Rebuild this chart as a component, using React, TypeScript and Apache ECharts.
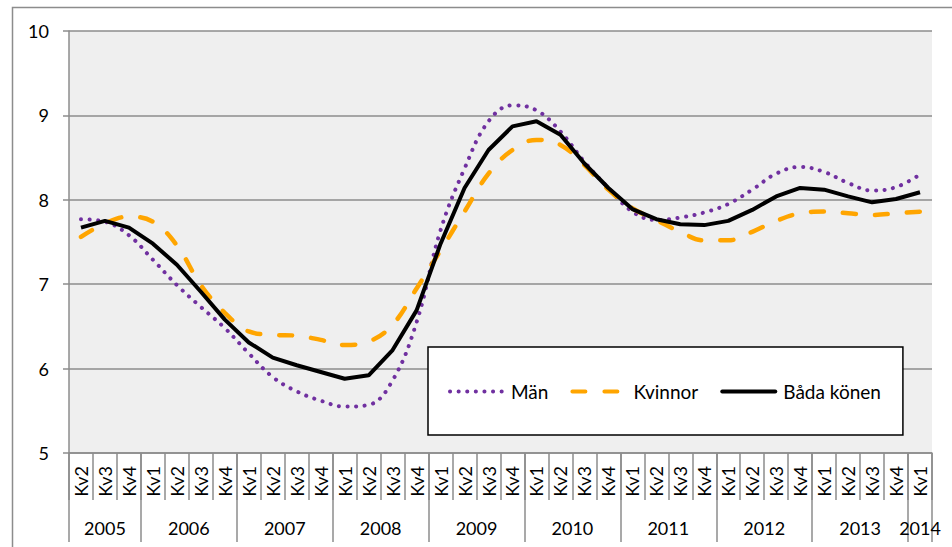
import React, { useEffect, useRef } from "react";
import * as echarts from "echarts";

const years = ["2005", "2006", "2007", "2008", "2009", "2010", "2011", "2012", "2013", "2014"];
const quartersPerYear = [3, 4, 4, 4, 4, 4, 4, 4, 4, 1];
const quarters = [
  "Kv2", "Kv3", "Kv4",
  "Kv1", "Kv2", "Kv3", "Kv4",
  "Kv1", "Kv2", "Kv3", "Kv4",
  "Kv1", "Kv2", "Kv3", "Kv4",
  "Kv1", "Kv2", "Kv3", "Kv4",
  "Kv1", "Kv2", "Kv3", "Kv4",
  "Kv1", "Kv2", "Kv3", "Kv4",
  "Kv1", "Kv2", "Kv3", "Kv4",
  "Kv1", "Kv2", "Kv3", "Kv4",
  "Kv1",
];
const man = [7.77, 7.74, 7.58, 7.29, 6.99, 6.73, 6.48, 6.18, 5.9, 5.73, 5.62, 5.55, 5.57, 5.86, 6.55, 7.64, 8.37, 8.93, 9.12, 9.06, 8.81, 8.45, 8.14, 7.86, 7.76, 7.79, 7.85, 7.95, 8.12, 8.31, 8.39, 8.33, 8.2, 8.11, 8.15, 8.3];
const kvinnor = [7.56, 7.72, 7.8, 7.74, 7.46, 6.99, 6.66, 6.44, 6.4, 6.39, 6.34, 6.28, 6.32, 6.52, 6.95, 7.4, 7.86, 8.31, 8.59, 8.71, 8.65, 8.41, 8.12, 7.9, 7.76, 7.62, 7.52, 7.52, 7.62, 7.75, 7.84, 7.86, 7.84, 7.82, 7.84, 7.86];
const bada = [7.67, 7.75, 7.67, 7.48, 7.23, 6.91, 6.58, 6.31, 6.13, 6.04, 5.96, 5.88, 5.92, 6.22, 6.69, 7.48, 8.14, 8.59, 8.87, 8.93, 8.77, 8.43, 8.14, 7.89, 7.77, 7.71, 7.7, 7.75, 7.88, 8.04, 8.14, 8.12, 8.04, 7.97, 8.01, 8.09];
const seriesNames = ["Män", "Kvinnor", "Båda könen"];

export default function App() {
  const ref = useRef<HTMLDivElement>(null);
  useEffect(() => {
    if (!ref.current) return;
    const chart = echarts.init(ref.current, undefined, { renderer: "svg" });
    const boundaries: number[] = [0];
    const centers: number[] = [];
    quartersPerYear.forEach((n) => {
      const start = boundaries[boundaries.length - 1];
      centers.push(start + n / 2);
      boundaries.push(start + n);
    });
    const font = "Lato";
    const gray = "#8c8c8c";
    chart.setOption({
      animation: false,
      graphic: [
        {
          type: "rect",
          shape: { x: 12.5, y: 7.5, width: 1000, height: 600 },
          style: { fill: "none", stroke: gray, lineWidth: 1.5 },
          silent: true,
          z: -10,
        },
      ],
      grid: {
        left: 69,
        top: 31,
        width: 863,
        height: 422,
        show: true,
        backgroundColor: "#efefef",
        borderWidth: 0,
      },
      legend: {
        left: 428,
        top: 347,
        orient: "horizontal",
        data: seriesNames,
        backgroundColor: "#ffffff",
        borderColor: "#000000",
        borderWidth: 1.5,
        padding: [35, 22, 34, 20],
        itemWidth: 53,
        itemHeight: 14,
        itemGap: 22,
        itemStyle: { opacity: 0 },
        lineStyle: { width: 4, cap: "round" },
        textStyle: { fontFamily: font, fontSize: 19, color: "#000", padding: [0, 0, 0, 3] },
      },
      xAxis: [
        {
          type: "category",
          data: quarters,
          position: "bottom",
          boundaryGap: true,
          axisLine: { show: true, lineStyle: { color: gray, width: 1.5 } },
          axisTick: { show: true, interval: 0, length: 47, lineStyle: { color: gray, width: 1.5 } },
          axisLabel: {
            interval: 0,
            rotate: 90,
            margin: 13,
            fontFamily: font,
            fontSize: 18,
            color: "#000",
          },
          splitLine: { show: false },
        },
        {
          type: "value",
          min: 0,
          max: quarters.length,
          position: "bottom",
          axisLine: { show: false },
          splitLine: { show: false },
          axisTick: {
            show: true,
            customValues: boundaries,
            length: 89,
            lineStyle: { color: gray, width: 1.5 },
          },
          axisLabel: {
            customValues: centers,
            margin: 66,
            fontFamily: font,
            fontSize: 18,
            color: "#000",
            showMinLabel: true,
            showMaxLabel: true,
            formatter: (v: number) => {
              const idx = centers.findIndex((c) => Math.abs(c - v) < 1e-6);
              return idx >= 0 ? years[idx] : "";
            },
          },
        },
      ],
      yAxis: {
        type: "value",
        min: 5,
        max: 10,
        interval: 1,
        axisLine: { show: true, lineStyle: { color: gray, width: 1.5 } },
        axisTick: { show: true, length: 6, lineStyle: { color: gray, width: 1.5 } },
        axisLabel: { margin: 20, fontFamily: font, fontSize: 18, color: "#000" },
        splitLine: { show: true, lineStyle: { color: gray, width: 1.5 } },
      },
      series: [
        {
          name: seriesNames[0],
          type: "line",
          data: man,
          smooth: 0.4,
          symbol: "none",
          itemStyle: { color: "#7030A0" },
          lineStyle: { color: "#7030A0", width: 4, type: [0.1, 8.5], cap: "round" },
        },
        {
          name: seriesNames[1],
          type: "line",
          data: kvinnor,
          smooth: 0.4,
          symbol: "none",
          itemStyle: { color: "#FFA500" },
          lineStyle: { color: "#FFA500", width: 4.5, type: [13, 19], cap: "round" },
        },
        {
          name: seriesNames[2],
          type: "line",
          data: bada,
          smooth: false,
          symbol: "none",
          itemStyle: { color: "#000000" },
          lineStyle: { color: "#000000", width: 4 },
        },
      ],
    });
    return () => chart.dispose();
  }, []);
  return (
    <div
      ref={ref}
      style={{ position: "fixed", left: 0, top: 0, width: 952, height: 547, background: "#fff" }}
    />
  );
}
